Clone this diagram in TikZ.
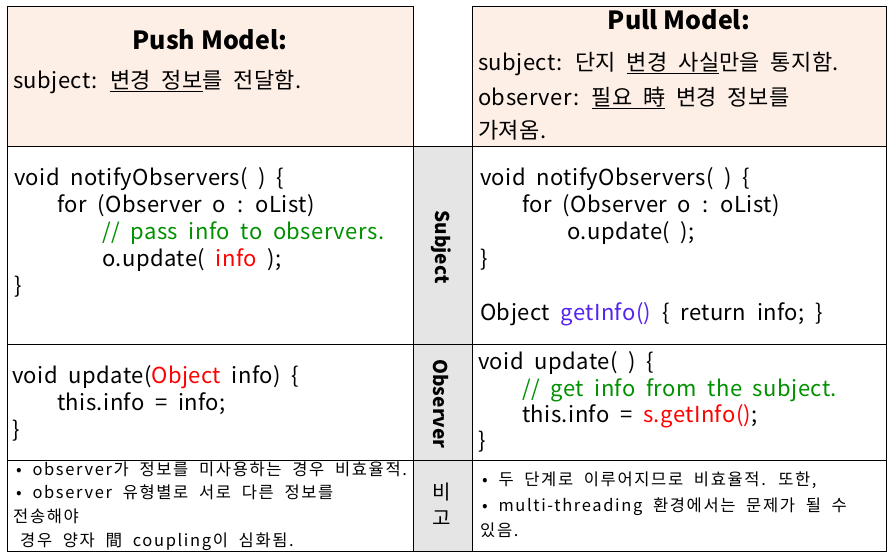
\documentclass[tikz,border=0pt]{standalone}
\usepackage{fontspec}
\setmainfont{Noto Sans CJK KR}
\newfontfamily\codefont[WordSpace=2,LetterSpace=2]{Noto Sans CJK KR}
\newfontfamily\notefont[WordSpace=2,LetterSpace=10]{Noto Sans CJK KR}
\definecolor{headfill}{HTML}{FDEEE6}
\definecolor{labelfill}{HTML}{E5E5E5}
\definecolor{cmtgreen}{HTML}{009000}
\definecolor{argred}{HTML}{FF0000}
\definecolor{getblue}{HTML}{5522EE}
\tikzset{
  cell/.style={draw=black, line width=0.9pt},
  code/.style={anchor=base west, inner sep=0pt, font=\codefont\fontsize{22}{27}\selectfont},
  note/.style={anchor=base west, inner sep=0pt, font=\notefont\fontsize{16.5}{23}\selectfont},
  title/.style={anchor=base, inner sep=0pt, font=\fontsize{25}{28}\selectfont\bfseries},
  rowlabel/.style={inner sep=0pt, rotate=-90, font=\fontsize{19}{20}\selectfont\bfseries},
}
\begin{document}
\begin{tikzpicture}[x=1pt, y=-1pt]
  \useasboundingbox (0,0) rectangle (891,557);
  % cells
  \fill[headfill] (7,6) rectangle (413,146);
  \fill[headfill] (472,6) rectangle (886,146);
  \fill[labelfill] (413,146) rectangle (472,551);
  \draw[cell] (7,6) rectangle (413,146);
  \draw[cell] (472,6) rectangle (886,146);
  \draw[cell] (7,146) rectangle (886,551);
  \draw[cell] (413,146) -- (413,551);
  \draw[cell] (472,146) -- (472,551);
  \draw[cell] (7,344) -- (886,344);
  \draw[cell] (7,460) -- (886,460);
  % headers
  \node[title] (pushtitle) at (210,49) {Push Model:};
  \node[code] (pushsubj) at (13,88) {subject: \underline{변경 정보}를 전달함.};
  \node[title] (pulltitle) at (679,29) {Pull Model:};
  \node[code] (pullsubj) at (478,70) {subject: 단지 \underline{변경 사실}만을 통지함.};
  \node[code] (pullobs) at (478,105) {observer: \underline{필요 時} 변경 정보를};
  \node[code] (pullobs2) at (478,138) {가져옴.};
  % middle labels
  \node[rowlabel] (subjlabel) at (441,247) {Subject};
  \node[rowlabel] (obslabel) at (441,404) {Observer};
  \node[inner sep=0pt, align=center, font=\fontsize{20}{26}\selectfont] (notelabel) at (442,504) {비\\고};
  % push subject code
  \node[code] (pushs1) at (14,185) {void notifyObservers( ) \{};
  \node[code] (pushs2) at (57,212) {for (Observer o : oList)};
  \node[code] (pushs3) at (102,239) {\textcolor{cmtgreen}{// pass info to observers.}};
  \node[code] (pushs4) at (102,266) {o.update( \textcolor{argred}{info} );};
  \node[code] (pushs5) at (14,293) {\}};
  % pull subject code
  \node[code] (pulls1) at (480,185) {void notifyObservers( ) \{};
  \node[code] (pulls2) at (522,212) {for (Observer o : oList)};
  \node[code] (pulls3) at (567,239) {o.update( );};
  \node[code] (pulls4) at (480,266) {\}};
  \node[code] (pulls5) at (480,320) {Object \textcolor{getblue}{getInfo()} \{ return info; \}};
  % push observer code
  \node[code] (pusho1) at (12,383) {void update(\textcolor{argred}{Object} info) \{};
  \node[code] (pusho2) at (57,410) {this.info = info;};
  \node[code] (pusho3) at (12,437) {\}};
  % pull observer code
  \node[code] (pullo1) at (478,369) {void update( ) \{};
  \node[code] (pullo2) at (522,396) {\textcolor{cmtgreen}{// get info from the subject.}};
  \node[code] (pullo3) at (522,422) {this.info = \textcolor{argred}{s.getInfo()};};
  \node[code] (pullo4) at (478,448) {\}};
  % notes
  \node[note] (pushn1) at (16,475) {• observer가 정보를 미사용하는 경우 비효율적.};
  \node[note] (pushn2) at (16,498) {• observer 유형별로 서로 다른 정보를};
  \node[note] (pushn3) at (13,522) {전송해야};
  \node[note] (pushn4) at (20,546) {경우 양자 間 coupling이 심화됨.};
  \node[note] (pulln1) at (482,485) {• 두 단계로 이루어지므로 비효율적. 또한,};
  \node[note] (pulln2) at (482,511) {• multi-threading 환경에서는 문제가 될 수};
  \node[note] (pulln3) at (480,536) {있음.};
\end{tikzpicture}
\end{document}
